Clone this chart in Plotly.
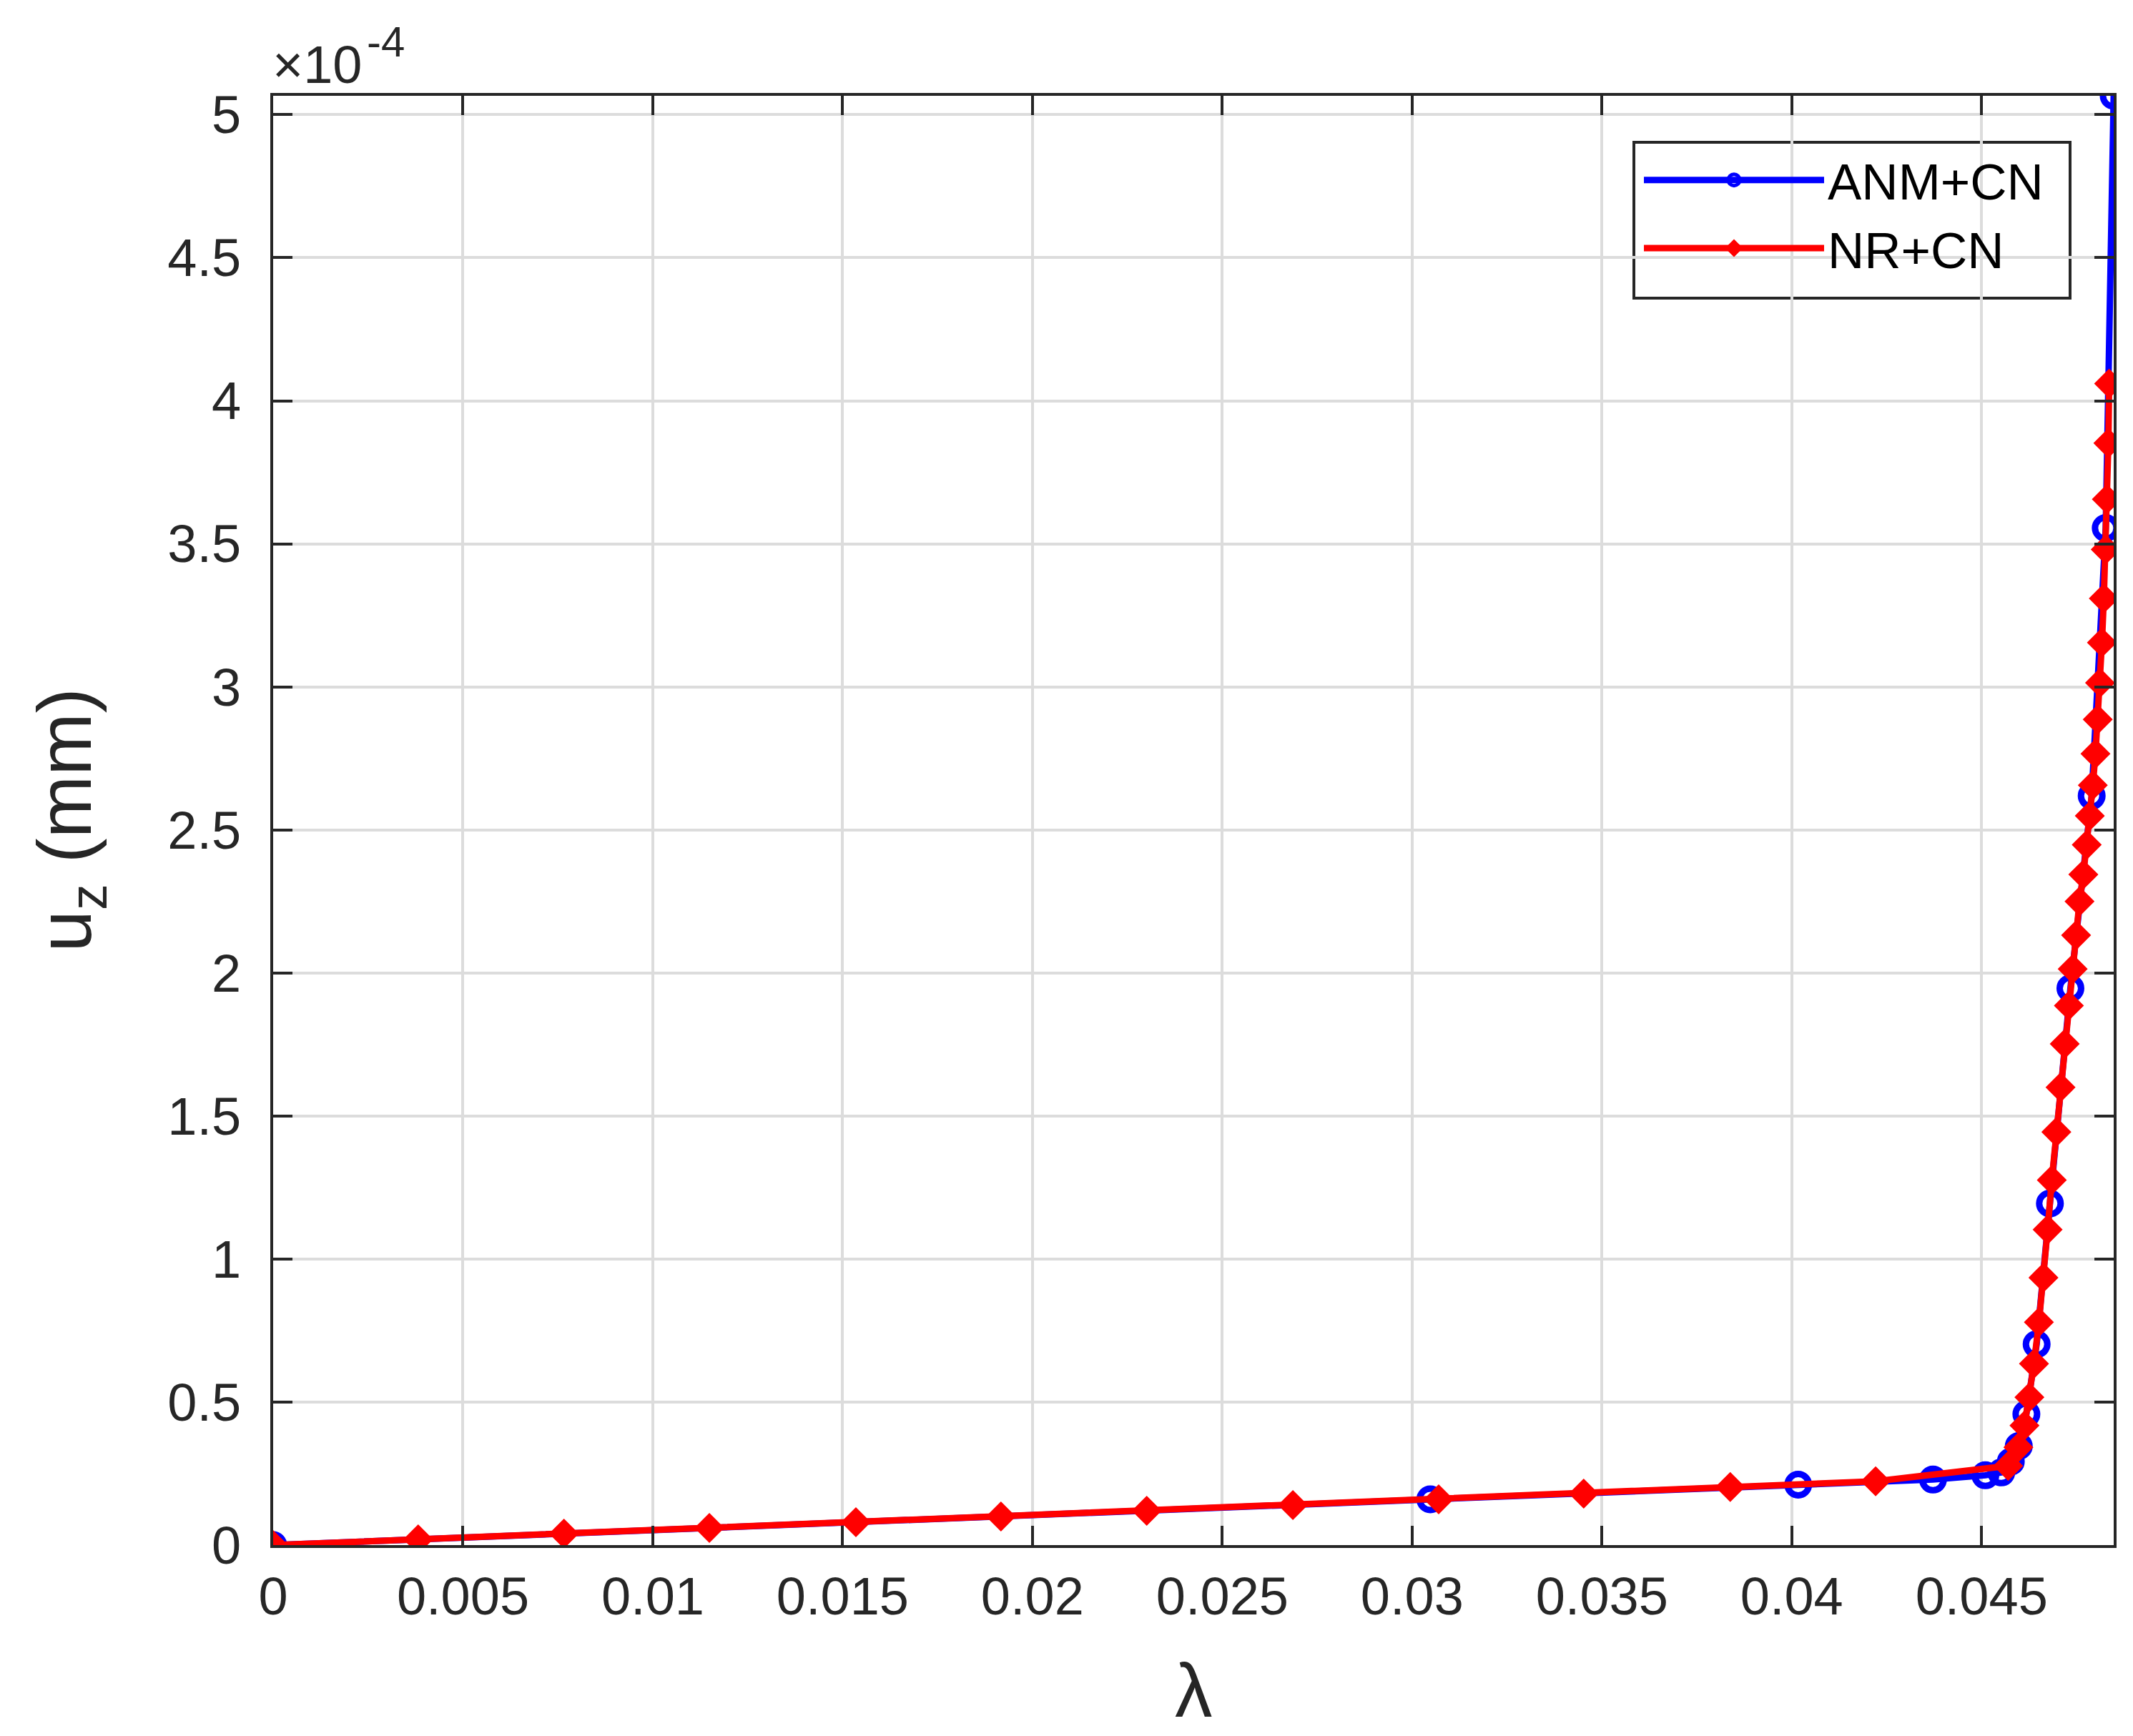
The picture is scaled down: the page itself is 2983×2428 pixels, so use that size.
import plotly.graph_objects as go

# load factor lambda and displacement u_z (in units of 1e-4 mm)
lam_anm = [0, 0.03048, 0.04017, 0.04372, 0.04510, 0.04552, 0.04577, 0.04598,
           0.04618, 0.04645, 0.04680, 0.04734, 0.04790, 0.04827, 0.04848]
uz_anm = [0, 0.160, 0.211, 0.229, 0.244, 0.254, 0.292, 0.346,
          0.458, 0.702, 1.194, 1.946, 2.619, 3.555, 5.066]

lam_nr = [0, 0.00382, 0.00766, 0.01149, 0.01535, 0.01917, 0.02301, 0.02686,
          0.03070, 0.03452, 0.03838, 0.04221, 0.04570, 0.04597, 0.04613, 0.04626,
          0.04638, 0.04651, 0.04663, 0.04674, 0.04685, 0.04697, 0.04708, 0.04719,
          0.04730, 0.04740, 0.04749, 0.04758, 0.04768, 0.04777, 0.04785, 0.04793,
          0.04800, 0.04806, 0.04812, 0.04817, 0.04822, 0.04827, 0.04830, 0.04834,
          0.04836]
uz_nr = [0, 0.020, 0.040, 0.060, 0.080, 0.100, 0.120, 0.140,
         0.160, 0.180, 0.203, 0.223, 0.277, 0.342, 0.418, 0.517,
         0.634, 0.779, 0.935, 1.103, 1.276, 1.444, 1.600, 1.752,
         1.886, 2.014, 2.132, 2.250, 2.344, 2.448, 2.549, 2.656,
         2.766, 2.886, 3.014, 3.155, 3.309, 3.480, 3.656, 3.852,
         4.060]

x_ticks = [0, 0.005, 0.01, 0.015, 0.02, 0.025, 0.03, 0.035, 0.04, 0.045]
y_ticks = [0, 0.5, 1, 1.5, 2, 2.5, 3, 3.5, 4, 4.5, 5]

W, H = 2983, 2428
L, R, T, B = 374, 35, 126, 275
PW, PH = W - L - R, H - T - B
ink = '#262626'
font = 'Liberation Sans, Arial, Helvetica, sans-serif'


def px(x):  # figure pixel -> paper x
    return (x - L) / PW


def py(y):  # figure pixel -> paper y
    return (H - B - y) / PH


fig = go.Figure()
fig.add_trace(go.Scatter(
    x=lam_anm, y=uz_anm, mode='lines+markers', name='ANM+CN',
    line=dict(color='#0000ff', width=9),
    marker=dict(symbol='circle-open', size=30, color='#0000ff', line=dict(width=9, color='#0000ff'))
))
fig.add_trace(go.Scatter(
    x=lam_nr, y=uz_nr, mode='lines+markers', name='NR+CN',
    line=dict(color='#ff0000', width=9),
    marker=dict(symbol='diamond', size=29, color='#ff0000', line=dict(width=3, color='#ff0000'))
))

axis_common = dict(
    showgrid=True, gridcolor='#dcdcdc', gridwidth=4,
    showline=True, linecolor=ink, linewidth=4, mirror='ticks',
    ticks='inside', ticklen=27, tickwidth=4, tickcolor=ink,
    tickfont=dict(family=font, size=74, color=ink),
    zeroline=False, automargin=False,
)

fig.update_xaxes(range=[0, max(lam_anm)], tickvals=x_ticks,
                 ticktext=[('%g' % v) for v in x_ticks],
                 ticklabelstandoff=4, **axis_common)
fig.update_yaxes(range=[0, max(uz_anm)], tickvals=y_ticks,
                 ticktext=[('%g' % v) for v in y_ticks],
                 ticklabelstandoff=26, **axis_common)

fig.update_layout(
    width=W, height=H,
    margin=dict(l=L, r=R, t=T, b=B, autoexpand=False),
    plot_bgcolor='white', paper_bgcolor='white',
    font=dict(family=font, color=ink),
    legend=dict(
        x=px(2286), y=py(191), xanchor='left', yanchor='top',
        bgcolor='rgba(0,0,0,0)', borderwidth=0,
        font=dict(family=font, size=71, color='black'),
        itemwidth=252, tracegroupgap=0,
    ),
    shapes=[
        dict(type='rect', xref='paper', yref='paper',
             x0=px(2277), x1=px(2887), y0=py(409), y1=py(191),
             line=dict(color=ink, width=4), fillcolor='white', layer='below'),
    ],
    annotations=[
        dict(text='×10', xref='paper', yref='paper', x=px(371), y=py(126),
             xanchor='left', yanchor='bottom', showarrow=False,
             font=dict(family=font, size=74, color=ink)),
        dict(text='-4', xref='paper', yref='paper', x=px(503), y=py(86),
             xanchor='left', yanchor='bottom', showarrow=False,
             font=dict(family=font, size=60, color=ink)),
        dict(text='λ', xref='paper', yref='paper', x=0.5, y=py(2356),
             xanchor='center', yanchor='middle', showarrow=False,
             font=dict(family=font, size=105, color=ink)),
        dict(text='u<sub>z</sub> (mm)', xref='paper', yref='paper', x=px(90), y=0.5,
             xanchor='center', yanchor='middle', textangle=-90,
             showarrow=False, font=dict(family=font, size=105, color=ink)),
    ],
)

fig.write_html("out.html")
